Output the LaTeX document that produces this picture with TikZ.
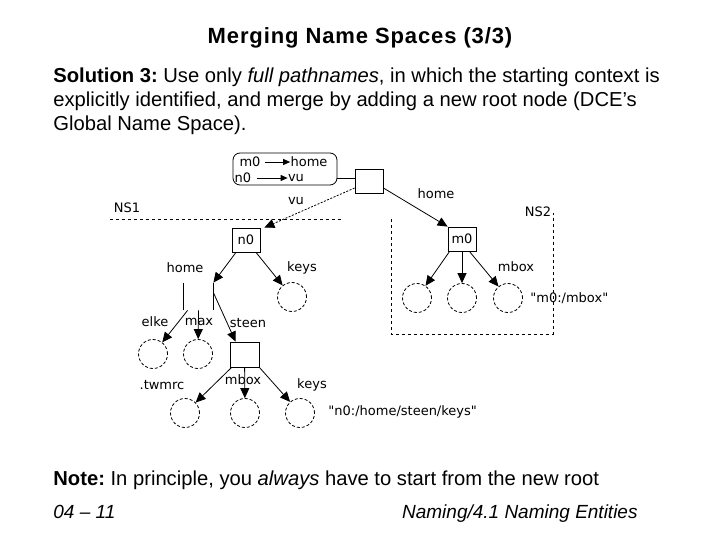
\documentclass[tikz,border=0pt]{standalone}
\usepackage{fontspec}
\setmainfont{Liberation Sans}
\newfontfamily\figfont{DejaVu Sans}
\frenchspacing
\usetikzlibrary{arrows.meta}
\usetikzlibrary{positioning}
\tikzset{dir/.style={draw, rectangle, minimum width=28pt, minimum height=24pt, inner sep=0pt, font=\figfont\fontsize{13}{15}\selectfont}}
\tikzset{leaf/.style={draw, circle, dash pattern=on 3pt off 2pt, minimum size=29pt, inner sep=0pt}}
\tikzset{lbl/.style={inner sep=0pt, font=\figfont\fontsize{13}{15}\selectfont}}
\tikzset{edge/.style={-{Triangle[length=10pt,width=9pt]}}}
\tikzset{tedge/.style={-{Triangle[length=7pt,width=6pt]}}}
\tikzset{txt/.style={anchor=base west, inner sep=0pt, font=\fontsize{20.2}{24}\selectfont}}

\begin{document}
\begin{tikzpicture}[x=1pt, y=-1pt, line width=0.8pt]
		\useasboundingbox (0,0) rectangle (720,540);
		% slide text
		\node[anchor=base, inner sep=0pt, font=\fontsize{22}{26}\selectfont\bfseries\addfontfeature{LetterSpace=4}] (title) at (360,44) {Merging Name Spaces (3/3)};
		\node[txt] (body1) at (53,83) {\textbf{Solution 3:} Use only \textit{full pathnames}, in which the starting context is};
		\node[txt] (body2) at (53,107) {explicitly identified, and merge by adding a new root node (DCE’s};
		\node[txt] (body3) at (53,131) {Global Name Space).};
		\node[txt] (note) at (53,485) {\textbf{Note:} In principle, you \textit{always} have to start from the new root};
		\node[anchor=base west, inner sep=0pt, font=\fontsize{19}{22}\selectfont\itshape] (pageno) at (53,518) {04 – 11};
		\node[anchor=base east, inner sep=0pt, font=\fontsize{19}{22}\selectfont\itshape] (chapter) at (638,518) {Naming/4.1 Naming Entities};
		
		% mount table and new root
		\node[lbl] (tm0) at (250,162) {m0};
		\node[lbl] (thome) at (309,162) {home};
		\node[lbl] (tn0) at (243,178) {n0};
		\node[lbl] (tvu) at (296,178) {vu};
		\node[draw, rounded corners=7pt, minimum width=104pt, minimum height=32pt] (table) at (285,169) {};
		\node[dir] (root) at (369,181) {};
		\draw[tedge] ([xshift=4pt]tm0.east) -- (thome.west);
		\draw[tedge] ([xshift=5pt]tn0.east) -- (tvu.west);
		\draw ([yshift=-9pt]table.east) -- ([yshift=3pt]root.west);
		
		% name space borders
		\draw[dashed] (110,219) -- (342,219);
		\draw[dashed] (391,219) -- (391,334) -- (553,334) -- (553,213);
		\node[lbl] (ns1) at (127,208) {NS1};
		\node[lbl] (ns2) at (538,212) {NS2};
		
		\node[dir] (n0) at (246,240) {n0};
		\node[dir] (m0) at (462,239) {m0};
		\draw[edge, dash pattern=on 2pt off 1.5pt] ([yshift=-7pt]root.west) -- ([xshift=4pt]n0.north east);
		\draw[edge] ([yshift=-7pt]root.east) -- (m0.north west);
		\node[lbl] (vul) at (296,201) {vu};
		\node[lbl] (homel) at (436,194) {home};
		
		% NS2
		\node[leaf] (ma) at (417,298) {};
		\node[leaf] (mb) at (462,298) {};
		\node[leaf] (mc) at (508,298) {};
		\draw[edge] ([xshift=2pt]m0.south west) -- (ma);
		\draw[edge] (m0) -- (mb);
		\draw[edge] ([xshift=-7pt]m0.south east) -- (mc);
		\node[lbl] (mboxl) at (516,267) {mbox};
		\node[lbl, anchor=west] (mpath) at (530,298) {"m0:/mbox"};
		
		% NS1
		\node[lbl] (nhomel) at (185,268) {home};
		\node[lbl] (nkeysl) at (302,268) {keys};
		\node[leaf] (nkeys) at (292,297) {};
		\node[rectangle, minimum width=29pt, minimum height=27pt, inner sep=0pt] (nhome) at (198.5,296.5) {};
		\draw (nhome.north west) -- (nhome.south west) (nhome.north east) -- (nhome.south east);
		\draw[edge] ([xshift=-10pt]n0.south) -- (nhome.north east);
		\draw[edge] ([xshift=10pt]n0.south) -- (nkeys);
		
		\node[leaf] (elke) at (153,354) {};
		\node[leaf] (max) at (198,354) {};
		\node[dir, minimum width=29pt, minimum height=25pt] (steen) at (244.5,354.5) {};
		\node[lbl] (elkel) at (155,322) {elke};
		\node[lbl] (maxl) at (199,322) {max};
		\node[lbl] (steenl) at (248,323) {steen};
		\draw[edge] ([xshift=4pt]nhome.south west) -- (elke);
		\draw[edge] (nhome.south) -- (max);
		\draw[edge] ([yshift=-10pt]nhome.north east) -- ([xshift=6pt]steen.north west);
		
		\node[leaf] (twmrc) at (185,413) {};
		\node[leaf] (smbox) at (245,413) {};
		\node[leaf] (skeys) at (300,413) {};
		\node[lbl] (twmrcl) at (162,385) {.twmrc};
		\node[lbl] (smboxl) at (243,380) {mbox};
		\node[lbl] (skeysl) at (312,385) {keys};
		\draw[edge] ([xshift=2pt]steen.south west) -- (twmrc);
		\draw[edge] (steen) -- (smbox);
		\draw[edge] (steen.south east) -- (skeys);
		\node[lbl, anchor=west] (spath) at (328,412) {"n0:/home/steen/keys"};
	\end{tikzpicture}
\end{document}
